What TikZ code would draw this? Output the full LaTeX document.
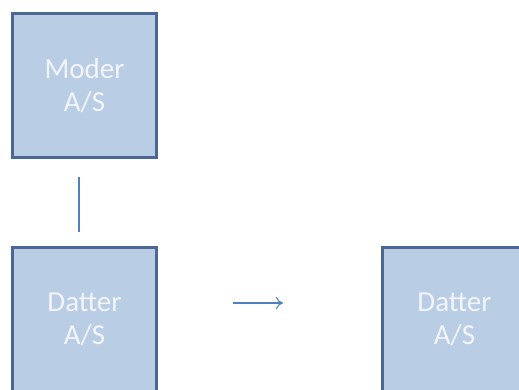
\documentclass[tikz,border=0pt]{standalone}
\usepackage{fontspec}
\setmainfont{Carlito}
\usetikzlibrary{arrows.meta}
\definecolor{boxfill}{HTML}{B9CDE5}
\definecolor{boxline}{HTML}{4A6893}
\definecolor{linkline}{HTML}{4F81BD}
\definecolor{boxtext}{HTML}{F2F5FA}
\tikzset{firma/.style={draw=boxline, line width=2.6pt, fill=boxfill,
    minimum width=144pt, minimum height=144pt, inner sep=0pt,
    text=boxtext, align=center, font=\fontsize{29}{33}\selectfont},
  forbindelse/.style={draw=linkline, line width=1.1pt}}
\begin{document}
\begin{tikzpicture}[x=1pt,y=-1pt]
    \useasboundingbox (0,0) rectangle (519,389); \clip (0,0)
    rectangle (519,389); \node [firma] (moder) at (84.5,85.5)
    {Moder\\A/S}; \node [firma] (datter1) at (84.5,319.5)
    {Datter\\A/S}; \node [firma] (datter2) at (454.5,319.5)
    {Datter\\A/S}; \coordinate (ejer1) at (79,177); \coordinate
    (ejer2) at (79,232); \draw [forbindelse] (ejer1) -- (ejer2);
    \coordinate (pil1) at (233,303); \coordinate (pil2) at
    (283,303); \draw [forbindelse, -{To[length=7pt,width=12pt]}]
    (pil1) -- (pil2);
  \end{tikzpicture}
\end{document}
